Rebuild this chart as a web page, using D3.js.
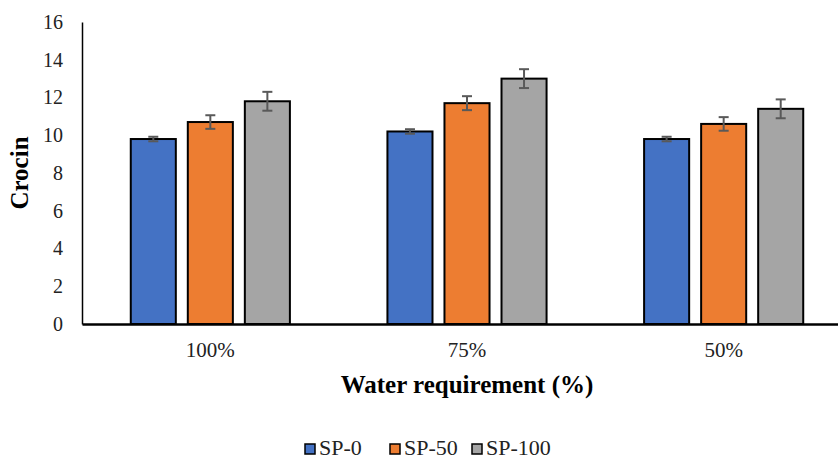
<!DOCTYPE html>
<html>
<head>
<meta charset="utf-8">
<script src="https://cdn.jsdelivr.net/npm/d3@7"></script>
<style>
  body { margin: 0; background: #fff; }
  svg { display: block; }
  svg text { font-family: "Liberation Serif", "Times New Roman", serif !important; }
</style>
</head>
<body>
<div class="chart"></div>
<script>
// categories and series
const groups = ["100%", "75%", "50%"];
const series = ["SP-0", "SP-50", "SP-100"];
const colors = ["#4472C4", "#ED7D31", "#A5A5A5"];

// values per series, in group order
const sp0 = [9.8, 10.2, 9.8];
const sp50 = [10.7, 11.7, 10.6];
const sp100 = [11.8, 13.0, 11.4];

// error bars (±)
const sp0Err = [0.12, 0.12, 0.12];
const sp50Err = [0.36, 0.37, 0.36];
const sp100Err = [0.5, 0.5, 0.5];

const yTicks = [0, 2, 4, 6, 8, 10, 12, 14, 16];

const width = 838, height = 460;
const margin = ({ top: 22, right: -14, bottom: 136, left: 82 });

const vals = [sp0, sp50, sp100];
const errs = [sp0Err, sp50Err, sp100Err];

const data = [];
groups.forEach((g, i) => {
    series.forEach((s, j) => {
        data.push({ group: g, series: s, value: vals[j][i], err: errs[j][i], color: colors[j] });
    });
});

var svg = d3.select(".chart").append("svg")
    .attr("width", width)
    .attr("height", height);

var x0 = d3.scaleBand()
    .domain(groups)
    .range([margin.left, width - margin.right]);

var x1 = d3.scaleBand()
    .domain(series)
    .range([0, x0.bandwidth()])
    .paddingInner(0.21)
    .paddingOuter(0.855);

var y = d3.scaleLinear()
    .domain([0, 16])
    .range([height - margin.bottom, margin.top]);

// y axis
var yAxis = svg.append("g")
    .attr("transform", `translate(${margin.left},0)`)
    .call(d3.axisLeft(y).tickValues(yTicks).tickSize(0).tickPadding(19))
    .attr("font-size", 20);
yAxis.select(".domain").attr("stroke", "#000").attr("stroke-width", 1.5);
yAxis.selectAll("text").attr("fill", "#222");

// bars
svg.append("g")
    .selectAll("rect")
    .data(data)
    .join("rect")
    .attr("x", d => x0(d.group) + x1(d.series))
    .attr("y", d => y(d.value))
    .attr("width", x1.bandwidth())
    .attr("height", d => y(0) - y(d.value))
    .attr("fill", d => d.color)
    .attr("stroke", "#000")
    .attr("stroke-width", 2);

// error bars
var eb = svg.append("g")
    .attr("stroke", "#595959")
    .attr("stroke-width", 2);

data.forEach(d => {
    const cx = x0(d.group) + x1(d.series) + x1.bandwidth() / 2;
    eb.append("line")
        .attr("x1", cx).attr("x2", cx)
        .attr("y1", y(d.value + d.err)).attr("y2", y(d.value - d.err));
    [d.value + d.err, d.value - d.err].forEach(v => {
        eb.append("line")
            .attr("x1", cx - 5).attr("x2", cx + 5)
            .attr("y1", y(v)).attr("y2", y(v));
    });
});

// x axis
var xAxis = svg.append("g")
    .attr("transform", `translate(0,${y(0)})`)
    .call(d3.axisBottom(x0).tickSize(0).tickPadding(18))
    .attr("font-size", 21);
xAxis.select(".domain").attr("stroke", "#000").attr("stroke-width", 2.5);
xAxis.selectAll("text").attr("fill", "#222");

// axis titles
svg.append("text")
    .attr("x", (margin.left + width - margin.right) / 2)
    .attr("y", 393)
    .attr("text-anchor", "middle")
    .attr("font-size", 25)
    .attr("font-weight", "bold")
    .text("Water requirement (%)");

svg.append("text")
    .attr("transform", `translate(28,${(y(0) + y(16)) / 2}) rotate(-90)`)
    .attr("text-anchor", "middle")
    .attr("font-size", 25)
    .attr("font-weight", "bold")
    .text("Crocin");

// legend
const legendX = [305, 390, 472];
var legend = svg.append("g")
    .selectAll("g")
    .data(series)
    .join("g")
    .attr("transform", (d, i) => `translate(${legendX[i]},444)`);

legend.append("rect")
    .attr("width", 10)
    .attr("height", 10)
    .attr("fill", (d, i) => colors[i])
    .attr("stroke", "#000")
    .attr("stroke-width", 1.5);

legend.append("text")
    .attr("x", 14)
    .attr("y", 11)
    .attr("font-size", 22)
    .attr("fill", "#222")
    .text(d => d);
</script>
</body>
</html>
